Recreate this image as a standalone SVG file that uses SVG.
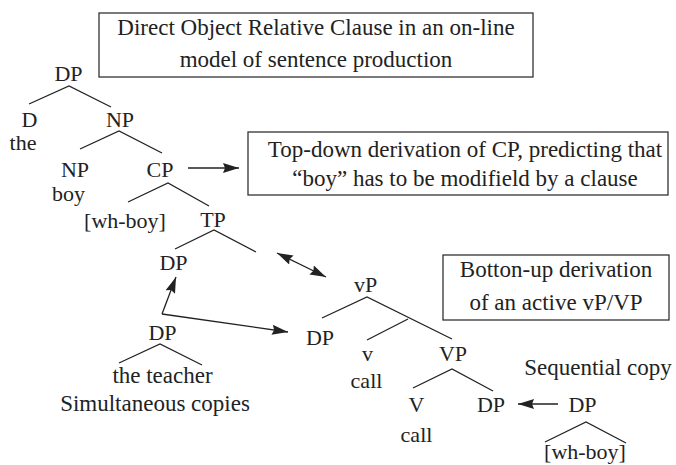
<svg xmlns="http://www.w3.org/2000/svg" width="676" height="465" viewBox="0 0 676 465">
<defs>
<style>
text{font-family:'Liberation Serif','Tinos','Times New Roman','Noto Serif','DejaVu Serif',serif;font-size:22px;fill:#222;text-anchor:middle}
text.s{font-size:23px}
.e{stroke:#222;stroke-width:1.3;fill:none}
.box{stroke:#333;stroke-width:1.3;fill:#fff}
.a{stroke:#222;stroke-width:1.3;fill:none;marker-end:url(#ah)}
</style>
<marker id="ah" markerUnits="userSpaceOnUse" markerWidth="18" markerHeight="12" refX="16" refY="5" orient="auto-start-reverse" viewBox="0 0 18 12">
<path d="M0,0 L16,5 L0,10 L2,5 z" fill="#222"/>
</marker>
</defs>
<rect width="676" height="465" fill="#fff"/>

<g id="title-box">
<rect class="box" x="99" y="13" width="434" height="64"/>
<text class="s" x="316" y="35">Direct Object Relative Clause in an on-line</text>
<text class="s" x="316" y="67">model of sentence production</text>
</g>
<g id="topdown-box">
<rect class="box" x="248" y="132" width="420" height="63"/>
<text class="s" x="465" y="157">Top-down derivation of CP, predicting that</text>
<text class="s" x="465" y="186">“boy” has to be modifield by a clause</text>
</g>
<g id="bottomup-box">
<rect class="box" x="443" y="255" width="226" height="65"/>
<text class="s" x="556" y="277">Botton-up derivation</text>
<text class="s" x="556" y="310">of an active vP/VP</text>
</g>

<g id="edges">
<polyline class="e" points="29,104 69,86 111,107"/>
<polyline class="e" points="80,149 119,131 162,153"/>
<polyline class="e" points="128,202 168,183 209,206"/>
<polyline class="e" points="175,249 214,230 256,252"/>
<polyline class="e" points="119,363 160,344 202,365"/>
<polyline class="e" points="322,318 367,297 452,339"/>
<line class="e" x1="408" y1="319" x2="367" y2="340"/>
<polyline class="e" points="413,388 452,369 493,391"/>
<polyline class="e" points="545,442 586,422 626,443"/>
</g>
<g id="connectors">
<line class="a" x1="188" y1="168" x2="239" y2="168"/>
<line class="a" x1="162" y1="314" x2="176" y2="277"/>
<line class="a" x1="162" y1="314" x2="288" y2="332"/>
<line class="a" x1="277" y1="253" x2="326" y2="277" style="marker-start:url(#ah)"/>
<line class="a" x1="558" y1="404" x2="518" y2="404"/>
</g>

<g id="n-dp-top"><text x="68.5" y="81">DP</text></g>
<g id="n-d"><text x="29.5" y="127">D</text><text x="23" y="150">the</text></g>
<g id="n-np"><text x="120" y="127">NP</text></g>
<g id="n-np-boy"><text x="75" y="177">NP</text><text x="68.5" y="201">boy</text></g>
<g id="n-cp"><text x="160" y="177">CP</text></g>
<g id="n-wh"><text x="125" y="228">[wh-boy]</text></g>
<g id="n-tp"><text x="213" y="227">TP</text></g>
<g id="n-dp-spec"><text x="173.5" y="270">DP</text></g>
<g id="n-dp-teacher"><text x="162.5" y="340">DP</text><text class="s" x="162.5" y="383">the teacher</text><text class="s" x="155" y="411">Simultaneous copies</text></g>
<g id="n-vp-small"><text x="365.5" y="292">vP</text></g>
<g id="n-dp-vp"><text x="320" y="345">DP</text></g>
<g id="n-v"><text x="367.5" y="361">v</text><text x="366.5" y="388">call</text></g>
<g id="n-VP"><text x="453" y="361">VP</text></g>
<g id="n-V"><text x="416.5" y="412">V</text><text x="416.5" y="442">call</text></g>
<g id="n-dp-obj"><text x="491" y="412">DP</text></g>
<g id="n-dp-seq"><text class="s" x="598" y="375">Sequential copy</text><text x="582.5" y="412">DP</text><text x="585" y="459">[wh-boy]</text></g>
</svg>
